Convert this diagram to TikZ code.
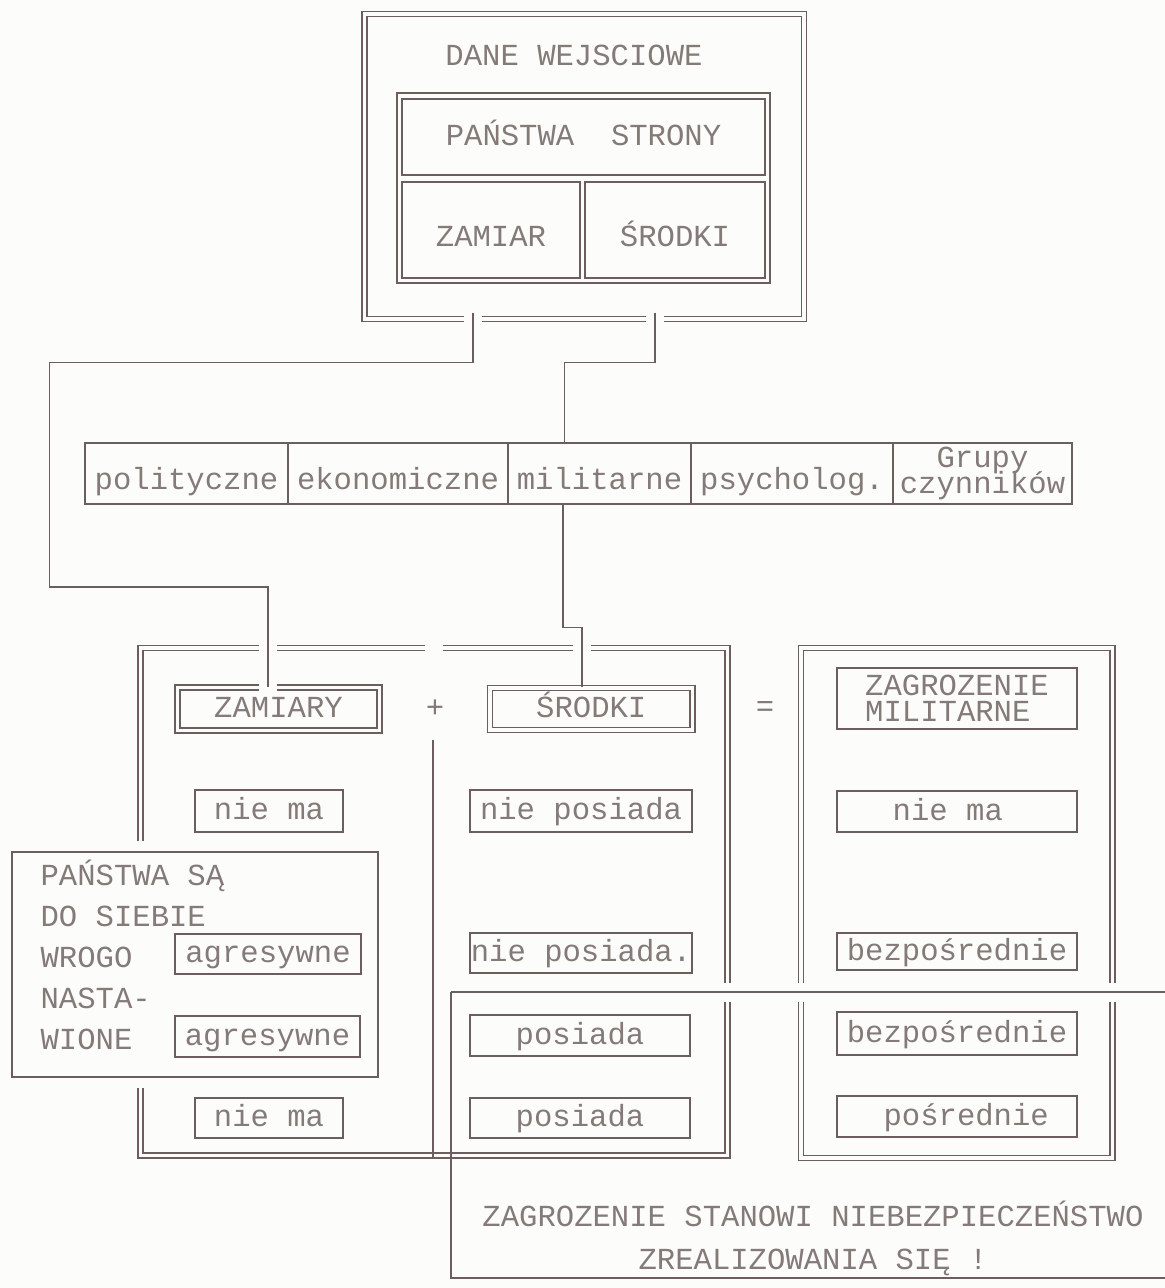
\documentclass[tikz,border=0pt]{standalone}
\usepackage{fontspec}
\usepackage{tikz}
\newfontfamily\typewriter{Liberation Mono}
\definecolor{ink}{RGB}{108,94,92}
\definecolor{txt}{RGB}{132,122,120}
\definecolor{paper}{RGB}{252,253,250}
\tikzstyle{note}=[text=txt]
\tikzstyle{cell}=[rectangle,draw=ink,text=txt,inner sep=0mm]
\tikzstyle{word}=[cell,text height=8.7pt,text depth=0pt]
\tikzstyle{dbl}=[draw=ink,double=paper,double distance=1.9pt]
\tikzstyle{factor}=[cell,minimum height=30.5pt,text height=16pt,text depth=0pt]
\tikzstyle{link}=[draw=ink]
\tikzset{halo/.style 2 args={preaction={draw=paper,line width=9pt,shorten <=#1,shorten >=#2}}}

\begin{document}
\begin{tikzpicture}[x=0.5pt,y=-0.5pt,line width=0.6pt,every node/.style={font=\typewriter\fontsize{15.3}{17}\selectfont}]
    \fill[paper] (0,0) rectangle (1165,1288);
    \useasboundingbox (0,0) rectangle (1165,1288);
    \node[dbl,minimum width=219.75pt,minimum height=152.5pt] at (584.25,166.5) (inputs) {};
    \node[note] at (574,55) (title) {DANE WEJSCIOWE};
    \draw[ink] (397,93) rectangle (770,283);
    \node[word,minimum width=181.5pt,minimum height=38pt] at (583.5,137) (states) {PAŃSTWA~~STRONY};
    \node[cell,minimum width=89pt,minimum height=48pt,text height=16.5pt,text depth=0pt] at (491,230) (zamiar) {ZAMIAR~};
    \node[cell,minimum width=90pt,minimum height=48pt,text height=16.5pt,text depth=0pt] at (675,230) (srodki) {ŚRODKI~};
    \node[factor,minimum width=101.5pt] at (186.5,473.5) (polit) {polityczne};
    \node[factor,minimum width=110pt] at (398,473.5) (econ) {ekonomiczne};
    \node[factor,minimum width=91.5pt] at (599.5,473.5) (milit) {militarne};
    \node[factor,minimum width=101pt] at (792,473.5) (psych) {psycholog.};
    \node[cell,minimum width=89.5pt,minimum height=30.5pt,align=center] at (982.5,473.5) (groups) {Grupy\\[-4pt]czynników};
    \draw[dbl] (425,648) -- (140.5,648) -- (140.5,1155.5) -- (727.5,1155.5) -- (727.5,648) -- (443,648);
    \draw[dbl] (801,648) rectangle (1112.5,1158);
    \node[note] at (435,709) (plus) {+};
    \node[note] at (765,709) (equals) {=};
    \coordinate (septop) at (433,740);
    \coordinate (sepbot) at (433,1158);
    \draw[ink] (septop) -- (sepbot);
    \node[word,dbl,minimum width=101pt,minimum height=21.5pt] at (278.5,709) (aims) {ZAMIARY~};
    \node[word,minimum width=74pt,minimum height=21pt] at (269,811) (aims1) {nie~ma~};
    \node[cell,fill=paper,preaction={draw=paper,line width=11pt},minimum width=183pt,minimum height=112.5pt] at (195,964.5) (hostile) {};
    \node[note,align=left,anchor=north west,inner sep=0pt] at (40,859) (hostiletext) {PAŃSTWA SĄ\\[3.5pt]DO SIEBIE\\[3.5pt]WROGO\\[3.5pt]NASTA-\\[3.5pt]WIONE};
    \node[word,minimum width=93pt,minimum height=20pt] at (268,954) (aims2) {agresywne};
    \node[word,minimum width=92.5pt,minimum height=20.5pt] at (267.5,1036.5) (aims3) {agresywne};
    \node[word,minimum width=74pt,minimum height=20pt] at (269,1118) (aims4) {nie~ma~};
    \node[word,dbl,minimum width=101.25pt,minimum height=21.25pt] at (591.25,709) (means) {ŚRODKI};
    \node[word,minimum width=111pt,minimum height=21pt] at (581,811) (means1) {nie posiada};
    \node[word,minimum width=111pt,minimum height=20pt] at (581,953) (means2) {nie posiada.};
    \node[word,minimum width=110pt,minimum height=20.5pt] at (580,1035.5) (means3) {posiada};
    \node[word,minimum width=110pt,minimum height=20pt] at (580,1118) (means4) {posiada};
    \node[cell,minimum width=120pt,minimum height=30.5pt,align=left] at (957,698.5) (threat) {ZAGROZENIE\\[-4pt]MILITARNE};
    \node[word,minimum width=120pt,minimum height=20.5pt] at (957,811.5) (threat1) {nie~ma~~};
    \node[word,minimum width=120pt,minimum height=18.5pt] at (957,951.5) (threat2) {bezpośrednie};
    \node[word,minimum width=120pt,minimum height=21.5pt] at (957,1033.5) (threat3) {bezpośrednie};
    \node[word,minimum width=120pt,minimum height=20.5pt] at (957,1116.5) (threat4) {~pośrednie};
    \coordinate (out1) at ([xshift=-55.6pt,yshift=3.5pt]inputs.south);
    \coordinate (out2) at ([xshift=35.4pt,yshift=3.5pt]inputs.south);
    \coordinate (bend1) at (49.7,587);
    \draw[link,halo={0pt}{-4pt}] (out1) -- ++(0,50) -| (bend1) -| ([xshift=-5.25pt]aims.north);
    \draw[link,halo={0pt}{1pt}] (out2) -- ++(0,50) -| ([xshift=-17.5pt]milit.north);
    \draw[link,halo={1pt}{1pt}] ([xshift=-18.25pt]milit.south) -- ++(0,123) -| ([xshift=-4.6pt]means.north);
    \draw[link,preaction={draw=paper,line width=9.5pt}] (451,992) -- (1166,992);
    \draw[link] (451,992) -- (451,1278) -- (1166,1278);
    \node[note,align=center] at (813,1238.5) (danger) {ZAGROZENIE STANOWI NIEBEZPIECZEŃSTWO\\[4.5pt]ZREALIZOWANIA SIĘ !};
  \end{tikzpicture}
\end{document}
